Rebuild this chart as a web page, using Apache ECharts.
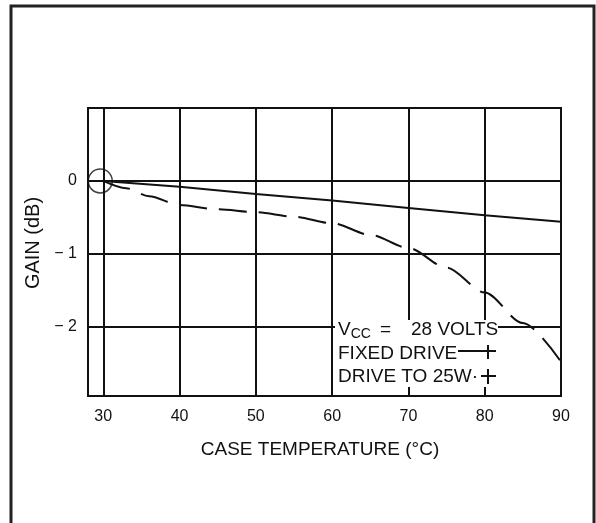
<!DOCTYPE html>
<html>
<head>
<meta charset="utf-8">
<script src="https://cdn.jsdelivr.net/npm/echarts@6/dist/echarts.min.js"></script>
<style>
  html, body { margin: 0; padding: 0; background: #fff; }
  #chart { width: 596px; height: 523px; }
</style>
</head>
<body>
<div id="chart"></div>
<script>
// x ticks (case temperature, °C) and y ticks (gain, dB)
const xTicks = [30, 40, 50, 60, 70, 80, 90];
const yTicks = [-2, -1, 0];

// fixed drive curve (solid)
const fixedTemps = [30, 40, 50, 60, 70, 80, 90];
const fixedGain = [0, -0.08, -0.18, -0.27, -0.37, -0.47, -0.56];

// drive to 25W curve (dashed)
const driveTemps = [30, 33, 36, 40, 45, 50, 55, 60, 65, 70, 75, 80, 85, 90];
const driveGain = [0, -0.1, -0.21, -0.33, -0.39, -0.43, -0.49, -0.58, -0.74, -0.92, -1.19, -1.53, -1.95, -2.48];

// reference point circled on the chart
const refPoint = [30, 0];

const ink = "#111";
const font = "'Liberation Sans', Arial, sans-serif";

const chart = echarts.init(document.getElementById("chart"));

const option = {
  backgroundColor: "#fff",
  animation: false,
  grid: {
    left: 88,
    right: 35,
    top: 108,
    bottom: 127,
    show: true,
    borderColor: ink,
    borderWidth: 2,
  },
  xAxis: {
    type: "value",
    min: 28,
    max: 90,
    name: "CASE TEMPERATURE (°C)",
    nameLocation: "middle",
    nameGap: 44,
    nameTextStyle: { color: ink, fontFamily: font, fontSize: 19, padding: [0, 9, 0, 0] },
    axisLine: { show: true, lineStyle: { color: ink, width: 2 } },
    axisTick: { show: false, customValues: xTicks },
    axisLabel: {
      customValues: xTicks,
      color: ink,
      fontFamily: font,
      fontSize: 16,
      margin: 13,
    },
    splitLine: { show: true, lineStyle: { color: ink, width: 2 } },
  },
  yAxis: {
    type: "value",
    min: -2.95,
    max: 1,
    name: "GAIN (dB)",
    nameLocation: "middle",
    nameGap: 45,
    nameRotate: 90,
    nameTextStyle: { color: ink, fontFamily: font, fontSize: 20, padding: [0, 0, 0, 18] },
    axisLine: { show: true, lineStyle: { color: ink, width: 2 } },
    axisTick: { show: false, customValues: yTicks },
    axisLabel: {
      customValues: yTicks,
      color: ink,
      fontFamily: font,
      fontSize: 16,
      margin: 11,
      formatter: (v) => (v === 0 ? "0" : "\u2212 " + Math.abs(v)),
    },
    splitLine: { show: true, lineStyle: { color: ink, width: 2 } },
  },
  series: [
    {
      name: "FIXED DRIVE",
      type: "line",
      data: fixedTemps.map((t, i) => [t, fixedGain[i]]),
      showSymbol: false,
      lineStyle: { color: ink, width: 2 },
      z: 3,
    },
    {
      name: "DRIVE TO 25W",
      type: "line",
      smooth: 0.3,
      smoothMonotone: "x",
      data: driveTemps.map((t, i) => [t, driveGain[i]]),
      showSymbol: false,
      lineStyle: { color: ink, width: 2, type: [28, 12] },
      z: 3,
    },
    {
      name: "ref",
      type: "scatter",
      data: [refPoint],
      symbol: "circle",
      symbolSize: 24,
      symbolOffset: [-3, 0],
      itemStyle: { color: "transparent", borderColor: ink, borderWidth: 1.5 },
      z: 4,
    },
  ],
  graphic: [
    // outer frame
    {
      type: "rect",
      shape: { x: 11, y: 6, width: 583, height: 540 },
      style: { fill: "none", stroke: "#222", lineWidth: 3 },
      silent: true,
    },
    // white box behind the key
    {
      type: "rect",
      shape: { x: 335, y: 320, width: 163, height: 67 },
      style: { fill: "#fff" },
      z: 1,
      silent: true,
    },
    {
      type: "text",
      x: 338,
      y: 319,
      z: 5,
      style: {
        text: "{v|V}{s|CC}{e|=}{v|28 VOLTS}",
        rich: {
          v: { fontFamily: font, fontSize: 19, fill: ink },
          s: { fontFamily: font, fontSize: 14, fill: ink, padding: [8, 0, 0, 0] },
          e: { fontFamily: font, fontSize: 19, fill: ink, padding: [0, 20, 0, 9] },
        },
      },
    },
    {
      type: "text",
      x: 338,
      y: 344,
      z: 5,
      style: { text: "FIXED DRIVE", fontFamily: font, fontSize: 19, fill: ink },
    },
    {
      type: "text",
      x: 338,
      y: 367,
      z: 5,
      style: { text: "DRIVE TO 25W·", fontFamily: font, fontSize: 19, fill: ink },
    },
    // key samples
    {
      type: "line",
      z: 5,
      shape: { x1: 458, y1: 351, x2: 496, y2: 351 },
      style: { stroke: ink, lineWidth: 2 },
    },
    {
      type: "line",
      z: 5,
      shape: { x1: 488, y1: 345, x2: 488, y2: 359 },
      style: { stroke: ink, lineWidth: 2 },
    },
    {
      type: "line",
      z: 5,
      shape: { x1: 481, y1: 376, x2: 496, y2: 376 },
      style: { stroke: ink, lineWidth: 2 },
    },
    {
      type: "line",
      z: 5,
      shape: { x1: 488, y1: 369, x2: 488, y2: 384 },
      style: { stroke: ink, lineWidth: 2 },
    },
  ],
};

chart.setOption(option);
</script>
</body>
</html>
